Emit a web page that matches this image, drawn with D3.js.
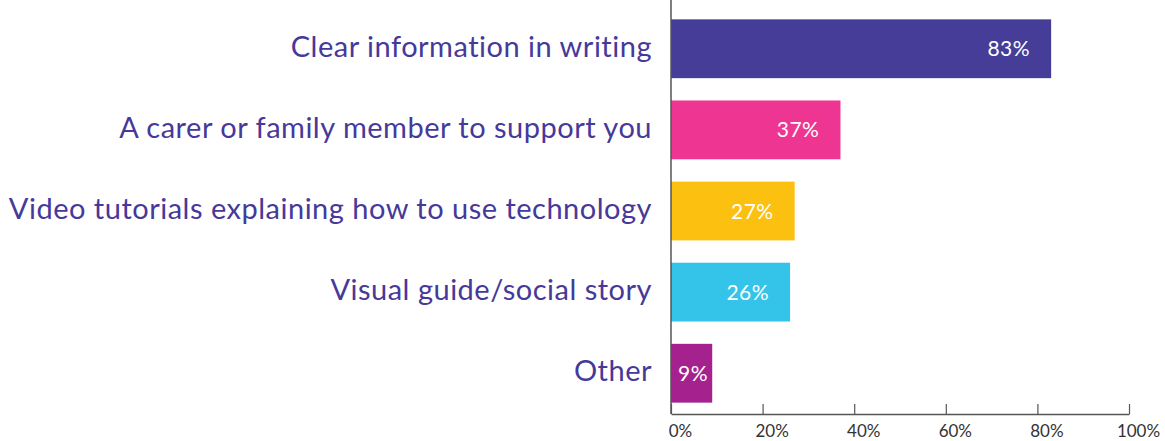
<!DOCTYPE html>
<html>
<head>
<meta charset="utf-8">
<script src="https://cdn.jsdelivr.net/npm/d3@7"></script>
<style>
  html, body { margin: 0; padding: 0; background: #fff; }
  svg { display: block; }
</style>
</head>
<body>
<svg id="chart" width="1165" height="441"></svg>
<script>
// Support options respondents said would help them
const categories = [
  "Clear information in writing",
  "A carer or family member to support you",
  "Video tutorials explaining how to use technology",
  "Visual guide/social story",
  "Other"
];
const values = [83, 37, 27, 26, 9];
const colors = ["#453d98", "#ee3592", "#fcc010", "#34c4ea", "#a5228e"];
const tickValues = [0, 20, 40, 60, 80, 100];

const width = 1165, height = 441;
const margin = { top: 8, right: 36, bottom: 27, left: 671 };
const font = "Lato, 'Noto Sans', sans-serif";
const labelColor = "#46399a";

const svg = d3.select("#chart");

const x = d3.scaleLinear()
  .domain([0, 100])
  .range([margin.left, width - margin.right]);

const y = d3.scaleBand()
  .domain(categories)
  .range([margin.top, height - margin.bottom])
  .paddingInner(0.275)
  .paddingOuter(0.14);

// Bars
svg.append("g")
  .selectAll("rect")
  .data(categories)
  .join("rect")
  .attr("x", x(0))
  .attr("y", d => y(d))
  .attr("width", (d, i) => x(values[i]) - x(0))
  .attr("height", y.bandwidth())
  .attr("fill", (d, i) => colors[i]);

// Category labels
svg.append("g")
  .selectAll("text")
  .data(categories)
  .join("text")
  .attr("x", margin.left - 19)
  .attr("y", d => y(d) + y.bandwidth() / 2)
  .attr("dy", "0.28em")
  .attr("text-anchor", "end")
  .attr("fill", labelColor)
  .style("font-family", font)
  .style("font-size", "29px")
  .style("letter-spacing", "0.5px")
  .text(d => d);

// Value labels inside bars
const valueLabels = svg.append("g")
  .selectAll("text")
  .data(categories)
  .join("text")
  .attr("y", d => y(d) + y.bandwidth() / 2)
  .attr("dy", "0.36em")
  .attr("text-anchor", "end")
  .attr("fill", "#ffffff")
  .style("font-family", font)
  .style("font-size", "21px")
  .style("letter-spacing", "0.5px")
  .text((d, i) => values[i] + "%");

valueLabels.attr("x", function (d, i) {
  const w = this.getComputedTextLength();
  return Math.max(x(values[i]) - 21, x(0) + 7 + w);
});

// X axis
const axis = d3.axisBottom(x)
  .tickValues(tickValues)
  .tickFormat(d => d + "%")
  .tickSizeInner(-10)
  .tickSizeOuter(0)
  .tickPadding(8);

const axisY = height - margin.bottom;
const gx = svg.append("g")
  .attr("transform", `translate(0,${axisY})`)
  .call(axis);

gx.select(".domain").attr("stroke", "#555").attr("stroke-width", 1.5);
gx.selectAll(".tick line").attr("stroke", "#555").attr("stroke-width", 1.2);
gx.selectAll(".tick text")
  .attr("y", 11)
  .attr("dy", "0.71em")
  .attr("dx", 9)
  .attr("fill", "#333")
  .style("font-family", font)
  .style("font-size", "17px");

// Vertical baseline
svg.append("line")
  .attr("x1", x(0)).attr("x2", x(0))
  .attr("y1", 0).attr("y2", axisY)
  .attr("stroke", "#555")
  .attr("stroke-width", 1.5);
</script>
</body>
</html>
